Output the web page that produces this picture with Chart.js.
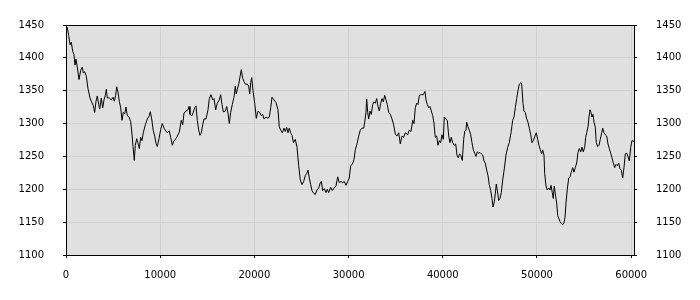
<!DOCTYPE html>
<html>
<head>
<meta charset="utf-8">
<script src="https://cdn.jsdelivr.net/npm/chart.js@4.4.1/dist/chart.umd.min.js"></script>
<style>
  html, body { margin: 0; padding: 0; background: #ffffff; }
  #wrap { width: 700px; height: 300px; }
</style>
</head>
<body>
<div id="wrap"><canvas id="c" width="700" height="300"></canvas></div>
<script>
const xValues = [0,138,287,425,563,711,849,955,1062,1200,
1380,1561,1730,1837,1985,2155,2336,2548,2686,2898,
3047,3185,3323,3471,3578,3747,3896,4034,4172,4278,
4384,4597,4809,4990,5128,5276,5382,5520,5658,5807,
5945,6083,6232,6370,6508,6688,6868,7006,7113,7251,
7357,7505,7644,7782,7930,8068,8206,8419,8631,8843,
8949,9098,9268,9416,9554,9692,9873,10053,10223,10404,
10584,10754,10966,11115,11285,11465,11678,11816,12028,12240,
12389,12527,12739,12952,13058,13164,13376,13514,13663,13801,
13939,14087,14225,14363,14512,14650,14862,15075,15213,15393,
15574,15712,15892,16062,16274,16423,16561,16699,16911,17060,
17198,17336,17484,17654,17835,17973,18079,18185,18334,18472,
18610,18759,18897,19035,19247,19396,19502,19608,19714,19852,
20032,20202,20383,20563,20733,20882,21020,21232,21444,21582,
21731,21869,22081,22294,22506,22644,22793,22962,23143,23281,
23430,23568,23706,23854,23992,24150,24343,24524,24704,24874,
25054,25235,25404,25553,25691,25829,25977,26115,26296,26466,
26646,26827,26997,27103,27251,27421,27602,27740,27889,28101,
28271,28451,28663,28844,29013,29194,29374,29544,29725,29905,
30075,30223,30393,30574,30712,30892,31073,31243,31423,31604,
31710,31848,31922,32028,32134,32273,32411,32560,32698,32836,
32985,33123,33261,33410,33548,33686,33835,33973,34111,34260,
34430,34608,34789,34958,35139,35319,35489,35670,35850,36020,
36275,36445,36625,36806,36944,37082,37231,37369,37507,37720,
37932,38112,38218,38356,38505,38643,38781,38930,39067,39206,
39354,39492,39630,39779,39917,40055,40161,40342,40480,40628,
40765,40903,41052,41222,41370,41508,41646,41795,41933,42071,
42220,42326,42464,42538,42676,42814,42963,43101,43239,43388,
43526,43664,43812,43950,44088,44237,44375,44513,44662,44800,
44938,45086,45224,45330,45468,45575,45681,45787,45936,46073,
46211,46360,46530,46710,46891,47061,47241,47422,47560,47698,
47846,47984,48123,48271,48377,48515,48621,48759,48908,49046,
49184,49333,49471,49609,49789,49927,50076,50214,50352,50500,
50606,50744,50819,50957,51095,51243,51381,51487,51625,51732,
51838,51944,52093,52199,52337,52443,52581,52730,52868,52974,
53080,53218,53367,53505,53643,53792,53930,54068,54216,54354,
54492,54641,54779,54917,55066,55172,55278,55416,55522,55628,
55734,55840,55946,56053,56191,56297,56446,56583,56721,56870,
56976,57114,57252,57401,57539,57677,57826,57963,58101,58250,
58388,58526,58675,58813,58951,59099,59237,59376,59524,59662,
59800,59949,60087,60300];

const yValues = [1448,1446,1434,1420,1424,1410,1405,1389,1398,1386,
1367,1381,1386,1377,1379,1372,1353,1339,1334,1327,
1317,1334,1342,1329,1322,1339,1324,1336,1343,1352,
1339,1339,1336,1340,1334,1343,1356,1348,1334,1324,
1305,1317,1315,1325,1312,1310,1303,1284,1265,1244,
1267,1277,1270,1262,1279,1274,1286,1298,1307,1312,
1318,1307,1289,1281,1270,1265,1277,1291,1300,1293,
1289,1286,1289,1279,1267,1274,1277,1281,1287,1305,
1298,1316,1319,1321,1326,1314,1312,1317,1324,1327,
1305,1290,1282,1286,1298,1307,1307,1321,1338,1344,
1336,1338,1321,1331,1336,1344,1329,1318,1319,1326,
1316,1300,1317,1329,1340,1357,1345,1352,1360,1371,
1382,1369,1364,1360,1360,1357,1345,1362,1370,1350,
1331,1308,1319,1317,1312,1314,1307,1310,1308,1310,
1324,1340,1336,1332,1321,1295,1290,1286,1293,1288,
1294,1286,1293,1286,1282,1271,1276,1264,1236,1214,
1207,1212,1221,1224,1229,1217,1207,1198,1194,1192,
1199,1202,1210,1212,1198,1201,1195,1200,1195,1203,
1198,1202,1205,1219,1210,1212,1210,1212,1206,1212,
1217,1236,1238,1245,1260,1269,1281,1290,1293,1293,
1302,1317,1337,1317,1307,1319,1314,1329,1333,1331,
1338,1326,1319,1331,1338,1333,1343,1336,1329,1317,
1314,1307,1298,1284,1281,1286,1269,1281,1279,1286,
1283,1290,1288,1305,1300,1324,1331,1329,1343,1344,
1344,1349,1336,1329,1324,1326,1319,1312,1300,1279,
1281,1267,1274,1271,1283,1276,1310,1307,1305,1281,
1271,1279,1271,1267,1269,1252,1248,1254,1251,1244,
1276,1288,1290,1302,1295,1290,1283,1271,1260,1255,
1250,1257,1255,1256,1254,1252,1243,1240,1229,1221,
1207,1198,1186,1173,1181,1193,1208,1199,1183,1186,
1195,1214,1231,1252,1264,1271,1286,1305,1310,1324,
1338,1350,1360,1362,1360,1331,1319,1317,1307,1302,
1293,1283,1271,1274,1281,1286,1276,1267,1260,1254,
1260,1252,1224,1205,1199,1202,1199,1206,1195,1186,
1205,1193,1179,1160,1155,1151,1148,1146,1149,1157,
1179,1200,1217,1219,1226,1233,1226,1233,1240,1256,
1262,1257,1264,1257,1264,1279,1286,1295,1310,1321,
1317,1310,1314,1302,1295,1271,1265,1267,1276,1286,
1293,1286,1283,1281,1269,1262,1255,1248,1240,1233,
1238,1236,1240,1231,1229,1217,1233,1254,1255,1250,
1243,1264,1274,1273];

const xTicks = [0, 10000, 20000, 30000, 40000, 50000, 60000];
const yTicks = [1100, 1150, 1200, 1250, 1300, 1350, 1400, 1450];
const xMin = 0, xMax = 60300;
const yMin = 1100, yMax = 1450;

Chart.defaults.font.family = "'DejaVu Sans', sans-serif";
Chart.defaults.font.size = 10;
Chart.defaults.color = '#000';

const points = xValues.map((x, i) => ({ x: x, y: yValues[i] }));
const plainLabel = v => String(v);

const framePlugin = {
  id: 'frame',
  beforeDraw(chart) {
    const { ctx, chartArea: a } = chart;
    ctx.save();
    ctx.fillStyle = '#e0e0e0';
    ctx.fillRect(a.left, a.top, a.right - a.left, a.bottom - a.top);
    ctx.restore();
  },
  afterDraw(chart) {
    const { ctx, chartArea: a } = chart;
    ctx.save();
    ctx.strokeStyle = '#000';
    ctx.lineWidth = 1;
    ctx.strokeRect(Math.round(a.left) + 0.5, Math.round(a.top) + 0.5,
                   Math.round(a.right) - Math.round(a.left), Math.round(a.bottom) - Math.round(a.top));
    ctx.restore();
  }
};

const yAxisCommon = {
  type: 'linear',
  min: yMin,
  max: yMax,
  afterBuildTicks: s => { s.ticks = yTicks.map(v => ({ value: v })); },
  afterFit: s => { s.width = 66; },
  border: { display: false },
  ticks: { padding: 19, color: '#000', callback: plainLabel }
};

new Chart(document.getElementById('c'), {
  type: 'line',
  data: {
    datasets: [{
      data: points,
      borderColor: '#000',
      borderWidth: 1,
      pointRadius: 0,
      tension: 0,
      fill: false
    }]
  },
  options: {
    responsive: false,
    animation: false,
    parsing: false,
    layout: { padding: { top: 10, left: 0, right: 0, bottom: 0 } },
    plugins: { legend: { display: false }, tooltip: { enabled: false } },
    scales: {
      x: {
        type: 'linear',
        position: 'bottom',
        min: xMin,
        max: xMax,
        afterBuildTicks: s => { s.ticks = xTicks.map(v => ({ value: v })); },
        afterFit: s => { s.height = 45; },
        border: { display: false },
        grid: { color: '#d0d0d0', tickColor: '#000', tickLength: 3 },
        ticks: { padding: 11, maxRotation: 0, autoSkip: false, color: '#000', callback: plainLabel }
      },
      y: Object.assign({}, yAxisCommon, {
        position: 'left',
        grid: { color: '#d0d0d0', tickColor: '#000', tickLength: 3 }
      }),
      y2: Object.assign({}, yAxisCommon, {
        position: 'right',
        grid: { drawOnChartArea: false, tickColor: '#000', tickLength: 3 }
      })
    }
  },
  plugins: [framePlugin]
});
</script>
</body>
</html>
